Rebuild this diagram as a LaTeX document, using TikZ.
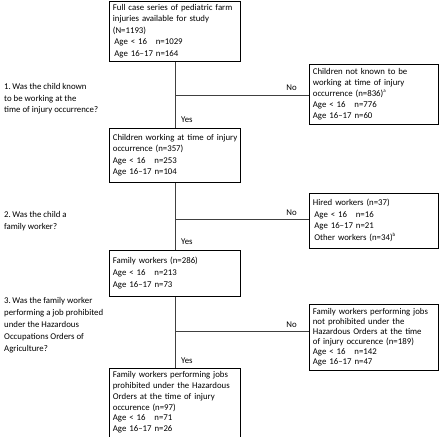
\documentclass[tikz,border=0pt]{standalone}
\usepackage{fontspec}
\setmainfont{Carlito}

\begin{document}
\begin{tikzpicture} [x=1pt, y=-1pt, font=\fontsize{8.8}{11.2}\selectfont,
  box/.style={draw, line width=0.8pt, align=left, inner xsep=2pt, inner ysep=0pt, anchor=north west},
  wide/.style={box, text width=127.2pt},
  side/.style={box, text width=125.2pt},
  lead/.style={font=\fontsize{8.8}{#1}\selectfont},
  link/.style={line width=0.8pt, draw=black!75},
  note/.style={inner sep=1pt}]
\useasboundingbox (0,0) rectangle (440,437);

% main column
\path (109, 0.5) node[wide, minimum height=60.5pt, lead=11.5] (v0) {\,Full case series of pediatric farm\\ \,injuries available for study\\ \,(N=1193)\\ \,\,Age < 16 \ \ n=1029\\ \,\,Age 16--17 n=164}
      (109, 128) node[wide, minimum height=54pt, lead=11.5] (v1) {\,\mbox{Children working at time of injury}\\ \,occurrence (n=357)\\ \,Age < 16 \ \ n=253\\ \,Age 16--17 n=104}
      (109, 250) node[wide, minimum height=46pt, lead=12] (v2) {\,Family workers (n=286)\\ \,Age < 16 \ \ n=213\\ \,Age 16--17 n=73}
      (109, 367.5) node[wide, minimum height=69pt, lead=10.7] (v3) {\,\mbox{Family workers performing jobs}\\ \,\mbox{prohibited under the Hazardous}\\ \,Orders at the time of injury\\ \,occurence (n=97)\\ \,Age < 16 \ \ n=71\\ \,Age 16--17 n=26};

% side boxes
\path (309, 64) node[side, minimum height=59.5pt, lead=11] (r0) {\,Children not known to be\\ \,working at time of injury\\ \,occurrence (n=836)\textsuperscript{\tiny a}\\ \,Age < 16 \ \ n=776\\ \,Age 16--17 n=60}
      (309, 192.5) node[side, minimum height=55pt, lead=11.7] (r1) {\,Hired workers (n=37)\\ \,\,Age < 16 \ \ n=16\\ \,\,Age 16--17 n=21\\ \,\,Other workers (n=34)\textsuperscript{\tiny b}}
      (309, 304) node[side, minimum height=66pt, lead=10] (r2) {\,\mbox{Family workers performing jobs}\\ \,not prohibited under the\\ \,\mbox{Hazardous Orders at the time}\\ \,\mbox{of injury occurence (n=189)}\\ \,Age < 16 \ \ n=142\\ \,Age 16--17 n=47};

% questions
\path (3, 99) node[anchor=west, align=left, note, lead=11.5] (q0) {1.\,Was the child known\\ to be working at the\\ time of injury occurrence?}
      (3, 221) node[anchor=west, align=left, note, lead=11.5] (q1) {2.\,Was the child a\\ family worker?}
      (3, 325) node[anchor=west, align=left, note, lead=12] (q2) {3.\,Was the family worker\\ performing a job prohibited\\ under the Hazardous\\ Occupations Orders of\\ Agriculture?};

% branch points
\path (175, 95.5) coordinate (j0)
      (175, 219) coordinate (j1)
      (175, 331.5) coordinate (j2);

\draw[link] (v0) -- (v1);
\draw[link] (v1) -- (v2);
\draw[link] (v2) -- (v3);
\draw[link] (j0) -- (j0 -| r0.west);
\draw[link] (j1) -- (j1 -| r1.west);
\draw[link] (j2) -- (j2 -| r2.west);

% answers
\path (298, 88) node[anchor=east, note] (n0) {No}
      (298, 213) node[anchor=east, note] (n1) {No}
      (298, 325) node[anchor=east, note] (n2) {No}
      (180, 120) node[anchor=west, note] (y0) {Yes}
      (180, 241.5) node[anchor=west, note] (y1) {Yes}
      (180, 360.5) node[anchor=west, note] (y2) {Yes};
\end{tikzpicture}
\end{document}
